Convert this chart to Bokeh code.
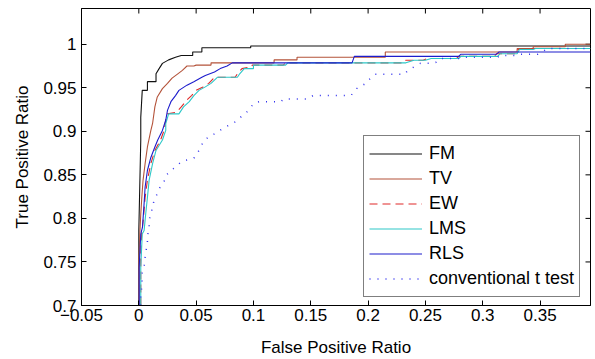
import math
from bokeh.plotting import figure
from bokeh.models import Range1d, FixedTicker, Legend
from bokeh.embed import file_html
from bokeh.resources import INLINE

# ---- data ----
fm_x = [0, 0, 0.0017, 0.0017, 0.003, 0.0075, 0.0075, 0.015, 0.015, 0.0177, 0.0206, 0.026, 0.032,
        0.037, 0.047, 0.047, 0.055, 0.055, 0.0976, 0.0976, 0.394]
fm_y = [0.70, 0.786, 0.89, 0.916, 0.947, 0.947, 0.957, 0.957, 0.966, 0.972, 0.978, 0.982, 0.985,
        0.987, 0.987, 0.991, 0.991, 0.996, 0.996, 0.998, 0.998]

tv_x = [0, 0, 0.001, 0.0017, 0.0026, 0.0037, 0.0055, 0.0075, 0.0105, 0.012, 0.014, 0.016, 0.0206,
        0.025, 0.029, 0.034, 0.038, 0.042, 0.048, 0.05, 0.063, 0.063, 0.118, 0.118, 0.138, 0.138,
        0.215, 0.215, 0.33, 0.33, 0.344, 0.344, 0.372, 0.372, 0.394]
tv_y = [0.70, 0.75, 0.786, 0.805, 0.824, 0.844, 0.863, 0.882, 0.901, 0.909, 0.928, 0.939, 0.949,
        0.955, 0.961, 0.966, 0.970, 0.975, 0.975, 0.976, 0.976, 0.9786, 0.9786, 0.982, 0.982, 0.985,
        0.985, 0.991, 0.991, 0.995, 0.995, 0.997, 0.997, 1.0, 1.0]

ew_x = [0.0017, 0.0017, 0.0025, 0.004, 0.0055, 0.0075, 0.0105, 0.014, 0.019, 0.022, 0.0235, 0.025,
        0.033, 0.037, 0.042, 0.046, 0.05, 0.056, 0.061, 0.066, 0.084, 0.086, 0.09, 0.098, 0.099,
        0.126, 0.128, 0.231, 0.233, 0.248, 0.252, 0.277, 0.279, 0.31, 0.312, 0.328, 0.33, 0.342,
        0.344, 0.394]
ew_y = [0.70, 0.76, 0.782, 0.80, 0.824, 0.844, 0.863, 0.878, 0.89, 0.901, 0.913, 0.92,
        0.922, 0.928, 0.936, 0.941, 0.947, 0.951, 0.955, 0.962, 0.962, 0.966, 0.972, 0.974, 0.976,
        0.976, 0.9786, 0.9786, 0.9816, 0.9816, 0.9836, 0.9836, 0.986, 0.986, 0.989, 0.989, 0.994, 0.994,
        0.995, 0.995]

lms_x = [0.0017, 0.0017, 0.003, 0.0046, 0.006, 0.0075, 0.009, 0.012, 0.015, 0.0206, 0.0235, 0.0235,
         0.026, 0.035, 0.039, 0.044, 0.048, 0.0525, 0.058, 0.063, 0.0685, 0.086, 0.088, 0.092, 0.1,
         0.1, 0.128, 0.13, 0.233, 0.24, 0.25, 0.255, 0.279, 0.281, 0.313, 0.315, 0.33, 0.332, 0.344,
         0.346, 0.394]
lms_y = [0.70, 0.744, 0.782, 0.786, 0.805, 0.824, 0.844, 0.863, 0.878, 0.89, 0.901, 0.909,
         0.92, 0.92, 0.928, 0.934, 0.941, 0.947, 0.951, 0.955, 0.962, 0.962, 0.966, 0.972, 0.972,
         0.976, 0.976, 0.9786, 0.9786, 0.9816, 0.9816, 0.9836, 0.9836, 0.986, 0.986, 0.989, 0.989,
         0.994, 0.994, 0.995, 0.995]

rls_x = [0.0003, 0.0003, 0.0017, 0.0032, 0.0046, 0.0055, 0.0075, 0.0105, 0.014, 0.0165, 0.0206,
         0.0235, 0.025, 0.028, 0.032, 0.035, 0.042, 0.048, 0.055, 0.058, 0.066, 0.071, 0.077, 0.0815,
         0.186, 0.188, 0.279, 0.281, 0.312, 0.314, 0.394]
rls_y = [0.70, 0.744, 0.782, 0.79, 0.817, 0.836, 0.855, 0.870, 0.882, 0.890, 0.901,
         0.913, 0.924, 0.934, 0.941, 0.947, 0.953, 0.957, 0.962, 0.964, 0.968, 0.972, 0.975, 0.9786,
         0.9786, 0.986, 0.986, 0.9885, 0.9885, 0.991, 0.991]

tt_x = [0.0017, 0.0017, 0.0026, 0.003, 0.0046, 0.006, 0.0075, 0.0075, 0.009, 0.009, 0.0105, 0.012,
        0.0133, 0.016, 0.0177, 0.022, 0.0235, 0.028, 0.032, 0.037, 0.042, 0.048, 0.0525, 0.057,
        0.063, 0.0685, 0.073, 0.0787, 0.0845, 0.092, 0.096, 0.1, 0.105, 0.124, 0.126, 0.147, 0.152,
        0.185, 0.19, 0.198, 0.202, 0.206, 0.232, 0.234, 0.24, 0.2456, 0.253, 0.259, 0.263, 0.28,
        0.283, 0.313, 0.315, 0.33, 0.333, 0.348, 0.353, 0.356, 0.394]
tt_y = [0.70, 0.71, 0.721, 0.737, 0.746, 0.761, 0.771, 0.78, 0.788, 0.798, 0.805, 0.813,
        0.821, 0.828, 0.834, 0.842, 0.849, 0.855, 0.859, 0.865, 0.867, 0.869, 0.878, 0.89,
        0.895, 0.899, 0.903, 0.907, 0.911, 0.92, 0.924, 0.932, 0.934, 0.934, 0.937, 0.937, 0.941,
        0.941, 0.949, 0.955, 0.961, 0.9655, 0.9655, 0.969, 0.974, 0.978, 0.978, 0.979, 0.9836, 0.9836,
        0.985, 0.985, 0.987, 0.987, 0.9885, 0.9885, 0.992, 0.995, 0.995]

x_ticks = [-0.05, 0, 0.05, 0.1, 0.15, 0.2, 0.25, 0.3, 0.35]
x_tick_labels = ["\u22120.05", "0", "0.05", "0.1", "0.15", "0.2", "0.25", "0.3", "0.35"]
y_ticks = [0.7, 0.75, 0.8, 0.85, 0.9, 0.95, 1.0]
y_tick_labels = ["0.7", "0.75", "0.8", "0.85", "0.9", "0.95", "1"]

FONT = "Liberation Sans"
FS = "17px"
X0, X1, Y0, Y1 = -0.05, 0.394, 0.7, 1.041

p = figure(width=592, height=359, output_backend="svg", toolbar_location=None,
           x_range=Range1d(X0, X1), y_range=Range1d(Y0, Y1),
           min_border_left=81, min_border_right=2, min_border_top=8, min_border_bottom=54,
           x_axis_label="False Positive Ratio", y_axis_label="True Positive Ratio")
p.grid.visible = False
p.outline_line_color = "black"
p.background_fill_color = "white"
p.border_fill_color = "white"

p.xaxis.ticker = FixedTicker(ticks=x_ticks)
p.xaxis.major_label_overrides = dict(zip(x_ticks, x_tick_labels))
p.yaxis.ticker = FixedTicker(ticks=y_ticks)
p.yaxis.major_label_overrides = dict(zip(y_ticks, y_tick_labels))

for ax in (p.xaxis[0], p.yaxis[0]):
    ax.major_tick_in = 5
    ax.major_tick_out = 0
    ax.minor_tick_line_color = None
    ax.axis_line_color = "black"
    ax.major_tick_line_color = "black"
    ax.major_label_text_font = FONT
    ax.major_label_text_font_size = FS
    ax.major_label_text_color = "black"
    ax.axis_label_text_font = FONT
    ax.axis_label_text_font_size = FS
    ax.axis_label_text_font_style = "normal"
    ax.axis_label_text_color = "black"
p.xaxis.major_label_standoff = 3
p.xaxis.axis_label_standoff = 14
p.yaxis.major_label_standoff = 5
p.yaxis.axis_label_standoff = 8

# box ticks on the top and right edges (inside, clipped by the frame)
p.scatter(x=x_ticks, y=[Y1] * len(x_ticks), marker="dash", size=10, angle=math.pi / 2,
          line_color="black", line_width=1)
p.scatter(x=[X1] * len(y_ticks), y=y_ticks, marker="dash", size=10,
          line_color="black", line_width=1)

r_fm = p.line(fm_x, fm_y, line_color="#111111", line_width=1.1)
r_tv = p.line(tv_x, tv_y, line_color="#b4533a", line_width=1.1)
r_ew = p.line(ew_x, ew_y, line_color="#e02828", line_width=1.1, line_dash="8 5")
r_lms = p.line(lms_x, lms_y, line_color="#2ec8c8", line_width=1.1)
r_rls = p.line(rls_x, rls_y, line_color="#1c1ccc", line_width=1.1)
r_tt = p.line(tt_x, tt_y, line_color="#3030ee", line_width=1.5, line_dash="1 7")

legend = Legend(items=[("FM", [r_fm]), ("TV", [r_tv]), ("EW", [r_ew]), ("LMS", [r_lms]),
                       ("RLS", [r_rls]), ("conventional t test", [r_tt])],
                location=(282, 8))
legend.label_text_font = FONT
legend.label_text_font_size = "18px"
legend.label_text_color = "black"
legend.glyph_width = 53
legend.glyph_height = 25
legend.label_height = 25
legend.spacing = 0
legend.padding = 5
legend.margin = 0
legend.label_standoff = 7
legend.border_line_color = "black"
legend.border_line_width = 1
legend.background_fill_color = "white"
legend.background_fill_alpha = 1
p.add_layout(legend, "center")

open("out.html", "w").write(file_html(p, INLINE))
